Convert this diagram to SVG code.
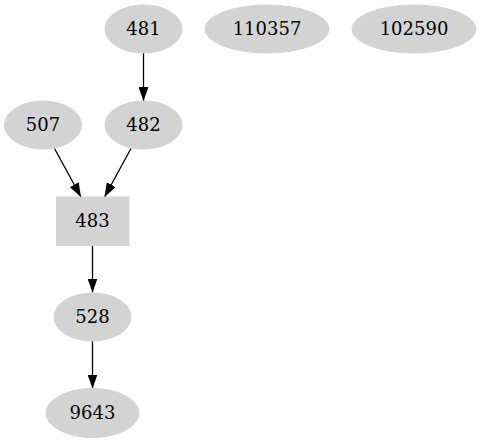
<svg xmlns="http://www.w3.org/2000/svg" width="481" height="443" viewBox="0 0 481 443">
<style>
.n ellipse, .n rect { fill: #d3d3d3; stroke: #d3d3d3; }
.n text { font-family: "DejaVu Serif", "Liberation Serif", serif; font-size: 18px; text-anchor: middle; fill: #000; }
.e path { stroke: #000; stroke-width: 1.3; fill: none; marker-end: url(#arr); }
</style>
<defs>
<marker id="arr" viewBox="0 0 14 10" refX="14" refY="5" markerWidth="14" markerHeight="10" markerUnits="userSpaceOnUse" orient="auto">
<path d="M0,0 L14,5 L0,10 z" fill="#000"/>
</marker>
</defs>
<rect width="481" height="443" fill="#fff"/>
<g id="edges" class="e">
<path d="M143.5,53 L143.5,101"/>
<path d="M54.5,148.5 L81,197"/>
<path d="M131,148.5 L104.5,197"/>
<path d="M92.5,245.5 L92.5,292.5"/>
<path d="M92.5,341 L92.5,388.5"/>
</g>
<g id="n481" class="n"><ellipse cx="143.5" cy="29" rx="38.5" ry="24"/><text x="143.5" y="35">481</text></g>
<g id="n110357" class="n"><ellipse cx="267" cy="29" rx="62" ry="24"/><text x="267" y="35">110357</text></g>
<g id="n102590" class="n"><ellipse cx="414" cy="29" rx="62" ry="24"/><text x="414" y="35">102590</text></g>
<g id="n507" class="n"><ellipse cx="43" cy="125" rx="38.5" ry="24"/><text x="43" y="131">507</text></g>
<g id="n482" class="n"><ellipse cx="143.5" cy="125" rx="38.5" ry="24"/><text x="143.5" y="131">482</text></g>
<g id="n483" class="n"><rect x="56.5" y="197" width="72.5" height="48.5"/><text x="92.5" y="227">483</text></g>
<g id="n528" class="n"><ellipse cx="92.5" cy="317" rx="38.5" ry="24"/><text x="92.5" y="323">528</text></g>
<g id="n9643" class="n"><ellipse cx="92.5" cy="413" rx="46.5" ry="24.5"/><text x="92.5" y="419">9643</text></g>
</svg>
